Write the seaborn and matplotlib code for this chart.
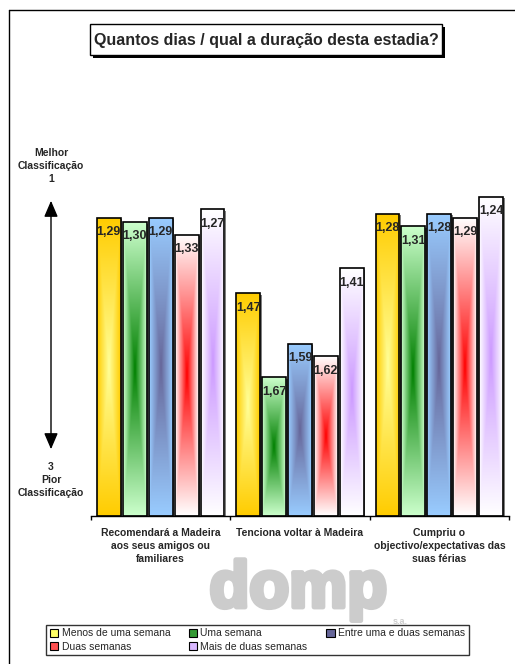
"""
Quantos dias / qual a duração desta estadia? — grouped bars with Excel-style gradient fills.
"""
import numpy as np
import pandas as pd
import matplotlib
matplotlib.use('Agg')
import matplotlib.pyplot as plt
import seaborn as sns
from matplotlib.patches import Rectangle, Patch, FancyArrowPatch
from matplotlib.lines import Line2D
from matplotlib.colors import to_rgb
from matplotlib.transforms import offset_copy
import matplotlib.patheffects as pe

sns.set_style("white")
plt.rcParams['font.family'] = ['Liberation Sans', 'DejaVu Sans']

# Data (scale: 1 = best, 3 = worst)
questions = ["Recomendará a Madeira\naos seus amigos ou\nfamiliares",
             "Tenciona voltar à Madeira",
             "Cumpriu o\nobjectivo/expectativas das\nsuas férias"]
durations = ["Menos de uma semana", "Uma semana", "Entre uma e duas semanas",
             "Duas semanas", "Mais de duas semanas"]
recomenda = [1.29, 1.30, 1.29, 1.33, 1.27]
voltar = [1.47, 1.67, 1.59, 1.62, 1.41]
cumpriu = [1.28, 1.31, 1.28, 1.29, 1.24]

# gradient colours: (outer, centre) per duration
edge_cols = ['#FFCC00', '#CCFFCC', '#99CCFF', '#FFFFFF', '#FFFFFF']
center_cols = ['#FFFF99', '#008000', '#666699', '#FF0000', '#CC99FF']
legend_cols = ['#FFFF66', '#339933', '#666699', '#FF5050', '#D9B8FF']

BASE = 2.0  # bars grow from here towards 1 (best)

rows = []
for q, vals in zip(questions, [recomenda, voltar, cumpriu]):
    for d, v in zip(durations, vals):
        rows.append({'question': q, 'duration': d, 'score': v, 'gain': BASE - v})
df = pd.DataFrame(rows)

W, H = 515, 664
fig = plt.figure(figsize=(W / 100, H / 100), dpi=100)
ax = fig.add_axes([91 / W, 1 - 516 / H, 418 / W, 420 / H])
ax.patch.set_alpha(0)

sns.barplot(data=df, x='question', y='gain', hue='duration', order=questions,
            hue_order=durations, palette=edge_cols, saturation=1, width=0.93,
            gap=0.08, edgecolor='black', linewidth=1.2, legend=False, ax=ax)


def gradient(outer, centre, n=240, m=40):
    yy = np.linspace(-1, 1, n)[:, None]
    xx = np.linspace(-1, 1, m)[None, :]
    t = np.maximum(np.abs(xx), np.abs(yy))[..., None]
    o, c = np.array(to_rgb(outer)), np.array(to_rgb(centre))
    return c + (o - c) * t


bars = sorted(ax.patches, key=lambda p: p.get_x())
scores = [v for vals in [recomenda, voltar, cumpriu] for v in vals]
for i, p in enumerate(bars):
    k = i % len(durations)
    x0, y0, w, h = p.get_x(), p.get_y(), p.get_width(), p.get_height()
    shadow = Rectangle((x0, y0), w, h, facecolor='#808080', edgecolor='none', zorder=1.5,
                       transform=offset_copy(ax.transData, fig=fig, x=1.5, y=-1.5, units='dots'))
    ax.add_patch(shadow)
    im = ax.imshow(gradient(edge_cols[k], center_cols[k]), extent=(x0, x0 + w, y0, y0 + h),
                   origin='lower', aspect='auto', interpolation='bilinear', zorder=1.8)
    im.set_clip_path(p)
    p.set_facecolor('none')
    p.set_zorder(2.5)
    ax.annotate(f"{scores[i]:.2f}".replace('.', ','), xy=(x0 + w / 2, y0 + h),
                xytext=(0, -6), textcoords='offset points', ha='center', va='top',
                fontsize=9, fontweight='bold', zorder=4)

ax.set_xlim(-0.5, 2.5)
ax.set_ylim(0, 1)
ax.set_yticks([])
ax.set_xlabel('')
ax.set_ylabel('')
ax.set_xticks(range(3))
ax.set_xticklabels(questions, fontsize=7.5, fontweight='bold', linespacing=1.35)
ax.set_xticks([-0.5, 0.5, 1.5, 2.5], minor=True)
ax.tick_params(axis='x', which='major', length=0, pad=9)
ax.tick_params(axis='x', which='minor', length=3, width=1, color='black', direction='out', bottom=True)
for s in ['left', 'right', 'top']:
    ax.spines[s].set_visible(False)
ax.spines['bottom'].set_color('black')
ax.spines['bottom'].set_linewidth(1)

# outer frame (left and top edges visible)
fig.add_artist(Line2D([9 / W, 9 / W], [0, 1 - 10 / H], transform=fig.transFigure, color='black', lw=1))
fig.add_artist(Line2D([9 / W, 1], [1 - 10 / H, 1 - 10 / H], transform=fig.transFigure, color='black', lw=1))

# title box with shadow
fig.add_artist(Rectangle((93 / W, 1 - 58 / H), 352 / W, 31 / H, transform=fig.transFigure,
                         facecolor='black', edgecolor='none'))
fig.add_artist(Rectangle((90 / W, 1 - 55 / H), 352 / W, 31 / H, transform=fig.transFigure,
                         facecolor='white', edgecolor='black', lw=1))
fig.text(266 / W, 1 - 40 / H, "Quantos dias / qual a duração desta estadia?",
         ha='center', va='center', fontsize=11.5, fontweight='bold')

# scale annotation on the left
fig.text(51 / W, 1 - 166 / H, "Melhor\nClassificação\n1", ha='center', va='center',
         fontsize=7.5, fontweight='bold', linespacing=1.35)
fig.text(51 / W, 1 - 480 / H, "3\nPior\nClassificação", ha='center', va='center',
         fontsize=7.5, fontweight='bold', linespacing=1.35)
fig.add_artist(FancyArrowPatch((51 / W, 1 - 452 / H), (51 / W, 1 - 198 / H),
                               transform=fig.transFigure,
                               arrowstyle='<|-|>,head_length=0.7,head_width=0.3',
                               mutation_scale=14, lw=1, color='black'))

# watermark logo
fig.text(298 / W, 1 - 590 / H, "domp", ha='center', va='center', fontsize=47,
         fontweight='heavy', color='#cccccc', zorder=0,
         path_effects=[pe.withStroke(linewidth=3.5, foreground='#cccccc')])
fig.text(400 / W, 1 - 622 / H, "s.a.", ha='center', va='center', fontsize=6.5,
         fontweight='bold', color='#cccccc', zorder=0)

# legend laid out row by row
order = [0, 3, 1, 4, 2]
handles = [Patch(facecolor=legend_cols[j], edgecolor='black', lw=0.8) for j in order]
labels = [durations[j] for j in order]
leg = fig.legend(handles, labels, loc='center', bbox_to_anchor=(257.5 / W, 1 - 640 / H),
                 ncol=3, fontsize=7.5, frameon=True, fancybox=False, edgecolor='black',
                 facecolor='none', handlelength=0.8, handleheight=0.8, handletextpad=0.3,
                 columnspacing=1.8, borderpad=0.35, labelspacing=0.35, borderaxespad=0)
leg.get_frame().set_linewidth(1)

plt.savefig('out.png', dpi=100)
plt.close()
